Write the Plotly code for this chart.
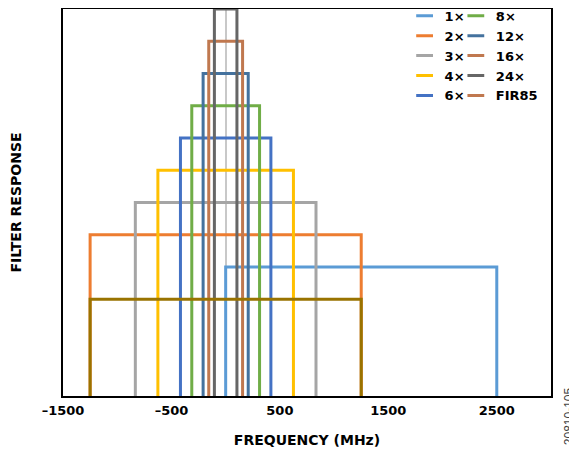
import plotly.graph_objects as go

# ---- data ----
names = ["1×", "2×", "3×", "4×", "6×", "8×", "12×", "16×", "24×", "FIR85"]
left_edges = [0, -1250, -833, -625, -417, -312.5, -208, -156, -104, -1250]
right_edges = [2500, 1250, 833, 625, 417, 312.5, 208, 156, 104, 1250]
heights = [4, 5, 6, 7, 8, 9, 10, 11, 12, 3]
line_colors = ["#5B9BD5", "#ED7D31", "#A5A5A5", "#FFC000", "#4472C4",
               "#70AD47", "#44729E", "#C0784F", "#666666", "#997300"]
legend_colors = ["#5B9BD5", "#ED7D31", "#A5A5A5", "#FFC000", "#4472C4",
                 "#70AD47", "#44729E", "#C0784F", "#666666", "#C0784F"]
legend_col1 = ["1×", "2×", "3×", "4×", "6×"]
tick_vals = [-1500, -500, 500, 1500, 2500]
tick_text = ["–1500", "–500", "500", "1500", "2500"]

FONT = "DejaVu Sans, Liberation Sans, Arial, sans-serif"

fig = go.Figure()

for name, lo, hi, h, c in zip(names, left_edges, right_edges, heights, line_colors):
    fig.add_trace(go.Scatter(
        x=[lo, lo, hi, hi], y=[0, h, h, 0], mode="lines",
        line=dict(color=c, width=3), name=name, legendgroup=name,
        showlegend=False, hoverinfo="name",
    ))

for name, c in zip(names, legend_colors):
    fig.add_trace(go.Scatter(
        x=[None], y=[None], mode="markers", name=name, legendgroup=name,
        marker=dict(symbol="line-ew", size=12, color=c, line=dict(color=c, width=3)),
        legend="legend" if name in legend_col1 else "legend2",
    ))

legend_common = dict(
    font=dict(family=FONT, size=13, color="black", weight="bold"),
    bgcolor="rgba(0,0,0,0)", tracegroupgap=0, yanchor="middle", xanchor="left",
)

# The page body adds an 8px offset, so the figure is 8px smaller on each axis
fig.update_layout(
    width=569, height=443,
    margin=dict(l=55, r=26, t=1, b=55, autoexpand=False),
    paper_bgcolor="white", plot_bgcolor="white",
    font=dict(family=FONT, color="black"),
    legend=dict(x=0.70, y=0.879, **legend_common),
    legend2=dict(x=0.805, y=0.879, **legend_common),
    xaxis=dict(
        range=[-1500, 3000], tickvals=tick_vals, ticktext=tick_text,
        tickfont=dict(family=FONT, size=13, color="black", weight="bold"),
        ticklabelstandoff=1, automargin=False,
        showgrid=False, zeroline=True, zerolinecolor="#C8C8C8", zerolinewidth=2,
        showline=True, linecolor="black", linewidth=2, mirror=True, ticks="",
        title=dict(text="FREQUENCY (MHz)", standoff=19,
                   font=dict(family=FONT, size=14, color="black", weight="bold")),
    ),
    yaxis=dict(
        range=[0, 12], showticklabels=False, showgrid=False, zeroline=False,
        automargin=False,
        showline=True, linecolor="black", linewidth=2, mirror=True, ticks="",
        title=dict(text="FILTER RESPONSE", standoff=40,
                   font=dict(family=FONT, size=14, color="black", weight="bold")),
    ),
    annotations=[dict(
        text="20810-105", xref="paper", yref="paper", x=1.037, y=-0.052,
        xanchor="center", yanchor="middle", textangle=-90, showarrow=False,
        font=dict(family="Liberation Sans, Arial, sans-serif", size=12, color="#444444"),
    )],
)

fig.write_html("out.html")
